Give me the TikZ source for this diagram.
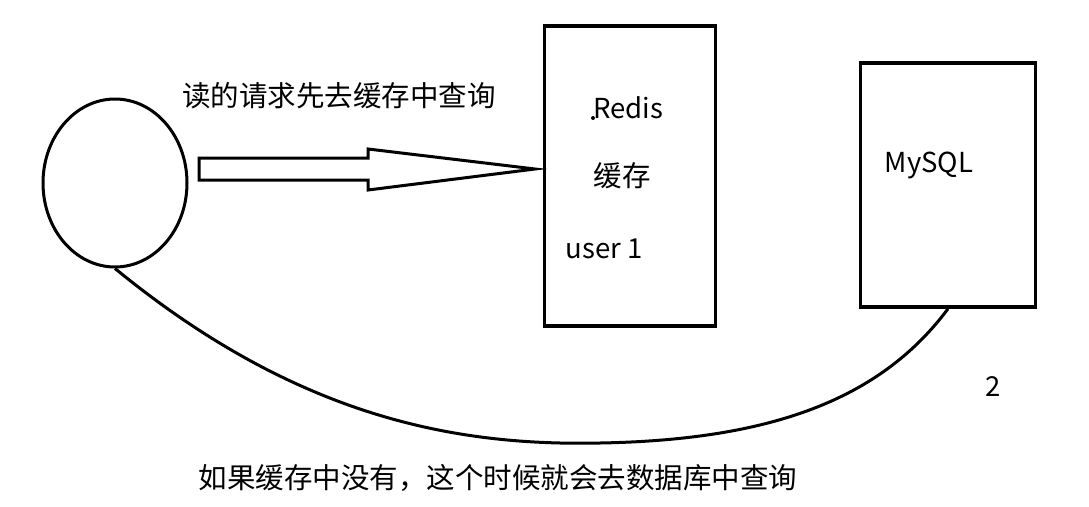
\documentclass[tikz,border=0pt]{standalone}
\usepackage{fontspec}
\setmainfont{Noto Sans CJK SC}
\usetikzlibrary{shapes.geometric}
\tikzset{
  lbl/.style={font=\fontsize{28.5}{34}\selectfont, inner sep=0pt, anchor=base},
  box/.style={draw, line width=3.5pt, minimum width=#1, inner sep=0pt},
  thin/.style={line width=3pt}
}
\begin{document}
\begin{tikzpicture}[x=1pt,y=-1pt]
\fill[white] (0,0) rectangle (1089,506);
\useasboundingbox (0,0) rectangle (1089,506);
% client
\node[draw, thin, ellipse, minimum width=144pt, minimum height=168pt, inner sep=0pt] (client) at (115,183) {};
% boxes
\node[box=171pt, minimum height=300pt] (redis) at (630,176) {};
\node[box=175pt, minimum height=244pt] (mysql) at (948,185) {};
% block arrow
\coordinate (arrowtip) at (535,169);
\draw[thin, line join=miter] (199,158) -- (368,158) -- (368,149) -- (arrowtip) -- (368,190) -- (368,180) -- (199,180) -- cycle;
% texts
\node[lbl] (t1) at (339,106) {读的请求先去缓存中查询};
\node[lbl, font=\fontsize{27.5}{32}\selectfont] (t2) at (628,118) {Redis};
\fill (593,118) circle (2pt);
\node[lbl] (t3) at (622,186) {缓存};
\node[lbl, font=\fontsize{27.5}{32}\selectfont] (t4) at (604,258) {user 1};
\node[lbl, font=\fontsize{27.5}{32}\selectfont] (t5) at (929,172) {MySQL};
\node[lbl, font=\fontsize{27.5}{32}\selectfont] (t6) at (993,396) {2};
\node[lbl] (t7) at (498,488) {如果缓存中没有，这个时候就会去数据库中查询};
% curve
\draw[thin] (client.south) .. controls (300,420) and (460,446) .. (600,443)
  .. controls (770,440) and (880,400) .. (mysql.south);
\end{tikzpicture}
\end{document}
